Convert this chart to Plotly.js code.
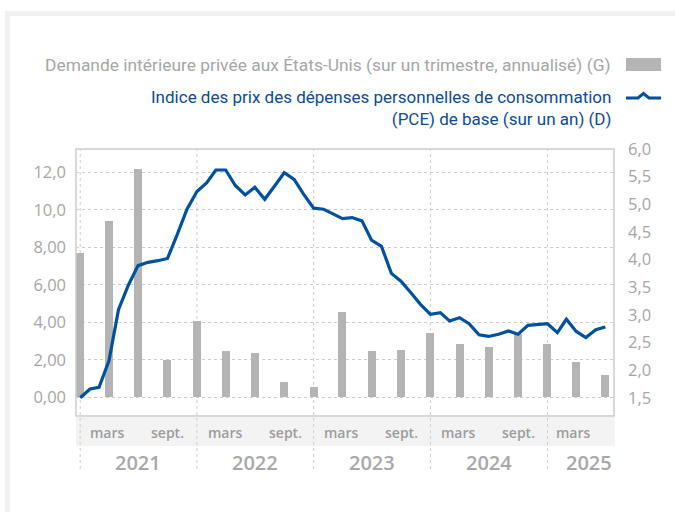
<!DOCTYPE html>
<html>
<head>
<meta charset="utf-8">
<script src="https://cdn.plot.ly/plotly-3.0.1.min.js"></script>
<style>
  html, body { margin: 0; padding: 0; background: #ffffff; }
  #card { position: absolute; left: 5px; top: 11px; width: 720px; height: 520px;
          border-top: 5px solid #f1f1f1; border-left: 5px solid #f1f1f1; box-sizing: border-box; }
  #chart { position: absolute; left: 0; top: 0; width: 675px; height: 512px; }
</style>
</head>
<body>
<div id="card"></div>
<div id="chart"></div>
<script>
// ---- data ----
const months = [
  '2021-01-01','2021-02-01','2021-03-01','2021-04-01','2021-05-01','2021-06-01',
  '2021-07-01','2021-08-01','2021-09-01','2021-10-01','2021-11-01','2021-12-01',
  '2022-01-01','2022-02-01','2022-03-01','2022-04-01','2022-05-01','2022-06-01',
  '2022-07-01','2022-08-01','2022-09-01','2022-10-01','2022-11-01','2022-12-01',
  '2023-01-01','2023-02-01','2023-03-01','2023-04-01','2023-05-01','2023-06-01',
  '2023-07-01','2023-08-01','2023-09-01','2023-10-01','2023-11-01','2023-12-01',
  '2024-01-01','2024-02-01','2024-03-01','2024-04-01','2024-05-01','2024-06-01',
  '2024-07-01','2024-08-01','2024-09-01','2024-10-01','2024-11-01','2024-12-01',
  '2025-01-01','2025-02-01','2025-03-01','2025-04-01','2025-05-01','2025-06-01',
  '2025-07-01'
];
const pceCore = [
  1.50, 1.66, 1.69, 2.17, 3.10, 3.54, 3.89, 3.95, 3.98, 4.02, 4.46, 4.91,
  5.23, 5.39, 5.62, 5.62, 5.34, 5.17, 5.31, 5.09, 5.33, 5.57, 5.45, 5.18,
  4.93, 4.91, 4.83, 4.74, 4.76, 4.70, 4.35, 4.24, 3.75, 3.61, 3.40, 3.19,
  3.01, 3.04, 2.89, 2.95, 2.84, 2.64, 2.61, 2.65, 2.71, 2.65, 2.81, 2.82,
  2.84, 2.68, 2.92, 2.70, 2.59, 2.73, 2.78
];
const quarters = [
  '2021-01-01','2021-04-01','2021-07-01','2021-10-01',
  '2022-01-01','2022-04-01','2022-07-01','2022-10-01',
  '2023-01-01','2023-04-01','2023-07-01','2023-10-01',
  '2024-01-01','2024-04-01','2024-07-01','2024-10-01',
  '2025-01-01','2025-04-01','2025-07-01'
];
const demand = [
  7.68, 9.40, 12.18, 1.98,
  4.06, 2.46, 2.35, 0.80,
  0.53, 4.54, 2.46, 2.51,
  3.42, 2.83, 2.67, 3.37,
  2.83, 1.87, 1.18
];
const leftTicks = [0, 2, 4, 6, 8, 10, 12];
const leftTickText = ['0,00', '2,00', '4,00', '6,00', '8,00', '10,0', '12,0'];
const rightTicks = [1.5, 2.0, 2.5, 3.0, 3.5, 4.0, 4.5, 5.0, 5.5, 6.0];
const rightTickText = ['1,5', '2,0', '2,5', '3,0', '3,5', '4,0', '4,5', '5,0', '5,5', '6,0'];
const years = ['2021', '2022', '2023', '2024', '2025'];
const monthLabels = [
  {x: '2021-03-28', t: 'mars'}, {x: '2021-09-30', t: 'sept.'},
  {x: '2022-03-30', t: 'mars'}, {x: '2022-10-05', t: 'sept.'},
  {x: '2023-03-28', t: 'mars'}, {x: '2023-10-03', t: 'sept.'},
  {x: '2024-03-30', t: 'mars'}, {x: '2024-10-01', t: 'sept.'},
  {x: '2025-03-22', t: 'mars'}
];
const legendDemand = 'Demande intérieure privée aux États-Unis (sur un trimestre, annualisé) (G)';
const legendPce = 'Indice des prix des dépenses personnelles de consommation<br>(PCE) de base (sur un an) (D)';

// ---- layout helpers (pixel -> paper) ----
const M = {l: 76, r: 61, t: 149, b: 96};
const PW = 675 - M.l - M.r, PH = 512 - M.t - M.b;
const fx = px => (px - M.l) / PW;
const fy = py => (512 - M.b - py) / PH;

const GRAY = '#a6a6a6';
const BLUE = '#00519e';
const BAR = '#b4b4b4';
const GRID = '#cdcdcd';

const traces = [
  {
    type: 'bar', x: quarters, y: demand, yaxis: 'y',
    marker: {color: BAR}, width: 25 * 86400000, hoverinfo: 'skip'
  },
  {
    type: 'scatter', mode: 'lines', x: months, y: pceCore, yaxis: 'y2',
    line: {color: BLUE, width: 3.2}, hoverinfo: 'skip'
  }
];

const shapes = [];
// gray band behind month labels
shapes.push({type: 'rect', xref: 'paper', yref: 'paper', x0: 0, x1: fx(615), y0: fy(417), y1: fy(446),
  fillcolor: '#f3f3f3', line: {width: 0}, layer: 'below'});
// year separators (dotted), extending through label area
years.forEach(y => {
  shapes.push({type: 'line', xref: 'x', yref: 'paper', x0: y + '-01-01', x1: y + '-01-01',
    y0: fy(469), y1: 1, line: {color: GRID, width: 1, dash: 'dot'}, layer: 'below'});
});
// plot frame
shapes.push({type: 'rect', xref: 'paper', yref: 'paper', x0: 0, x1: 1, y0: 0, y1: 1,
  line: {color: '#cccccc', width: 1.5}, fillcolor: 'rgba(0,0,0,0)', layer: 'above'});
// legend symbols
shapes.push({type: 'rect', xref: 'paper', yref: 'paper', x0: fx(626), x1: fx(661), y0: fy(71), y1: fy(58),
  fillcolor: BAR, line: {width: 0}});
shapes.push({type: 'path', xref: 'paper', yref: 'paper',
  path: 'M' + fx(626) + ',' + fy(98) + ' L' + fx(638) + ',' + fy(98) + ' L' + fx(643.5) + ',' + fy(93.5) +
        ' L' + fx(649) + ',' + fy(98) + ' L' + fx(661) + ',' + fy(98),
  line: {color: BLUE, width: 3}});

const annotations = [];
annotations.push({xref: 'paper', yref: 'paper', x: fx(613), y: fy(65), xanchor: 'right', yanchor: 'middle',
  text: legendDemand, showarrow: false, font: {family: 'Roboto, sans-serif', size: 17.4, color: GRAY}});
annotations.push({xref: 'paper', yref: 'paper', x: fx(613), y: fy(108), xanchor: 'right', yanchor: 'middle',
  align: 'right', text: legendPce, showarrow: false,
  font: {family: 'Roboto, sans-serif', size: 17, color: '#0a4c97'}});
monthLabels.forEach(m => {
  annotations.push({xref: 'x', yref: 'paper', x: m.x, y: fy(432), xanchor: 'center', yanchor: 'middle',
    text: m.t, showarrow: false, font: {family: 'Open Sans, sans-serif', size: 14, weight: 600, color: '#9c9c9c'}});
});
years.forEach((y, i) => {
  const last = i === years.length - 1;
  annotations.push({xref: last ? 'paper' : 'x', yref: 'paper',
    x: last ? 1 : y + '-07-02', y: fy(462), xanchor: last ? 'right' : 'center', yanchor: 'middle',
    text: y, showarrow: false, font: {family: 'Open Sans, sans-serif', size: 20, weight: 600, color: '#a8a8a8'}});
});

const layout = {
  width: 675, height: 512,
  margin: M,
  paper_bgcolor: 'rgba(0,0,0,0)', plot_bgcolor: 'rgba(0,0,0,0)',
  showlegend: false,
  bargap: 0,
  xaxis: {
    type: 'date', range: ['2020-12-19', '2025-07-28'],
    showgrid: false, zeroline: false, showticklabels: false, ticks: '', showline: false, fixedrange: true
  },
  yaxis: {
    range: [-1.0, 13.24], tickvals: leftTicks, ticktext: leftTickText,
    showgrid: true, gridcolor: GRID, griddash: 'dot', gridwidth: 1,
    zeroline: false, showline: false, ticks: '', ticklabelstandoff: 9,
    tickfont: {family: 'Open Sans, sans-serif', size: 16.5, color: GRAY}
  },
  yaxis2: {
    overlaying: 'y', side: 'right', range: [1.171, 6.0], tickvals: rightTicks, ticktext: rightTickText,
    showgrid: false, zeroline: false, showline: false, ticks: '', ticklabelstandoff: 13,
    tickfont: {family: 'Open Sans, sans-serif', size: 16.5, color: GRAY}
  },
  shapes: shapes,
  annotations: annotations
};

Plotly.newPlot('chart', traces, layout, {staticPlot: true, displayModeBar: false});
</script>
</body>
</html>
